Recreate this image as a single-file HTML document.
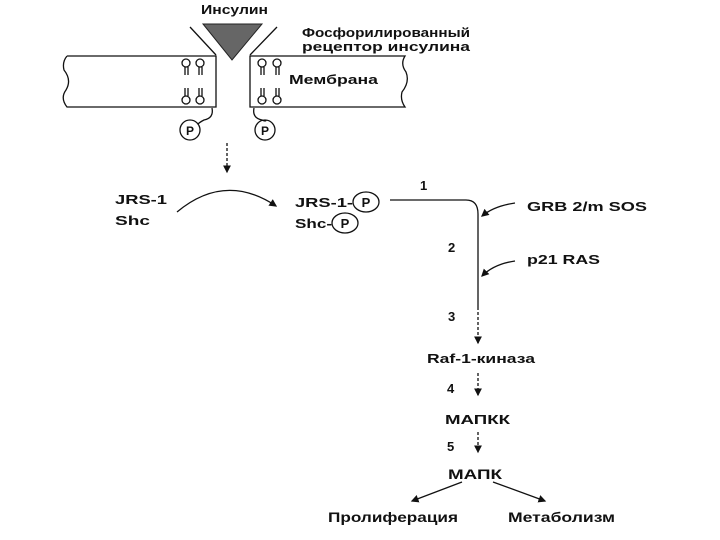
<!DOCTYPE html>
<html><head><meta charset="utf-8"><style>
html,body{margin:0;padding:0;background:#fff;}
svg{display:block;}
text{font-family:"Liberation Sans","DejaVu Sans",sans-serif;font-weight:bold;fill:#111;}
</style></head><body>
<svg width="720" height="540" viewBox="0 0 720 540" xmlns="http://www.w3.org/2000/svg">
<defs><marker id="a" markerWidth="6" markerHeight="6" refX="5" refY="3" orient="auto"><path d="M0,0 L6,3 L0,6 z" fill="#111"/></marker></defs>
<g stroke="#111" stroke-width="1.3" fill="none">
<path d="M67,56 L216,56 L216,107 L67,107 Q60,98 66,90 Q72,80 64,70 Q62,62 67,56"/>
<path d="M250,56 L405,56 Q400,64 406,72 Q410,82 402,92 Q400,100 405,107 L250,107 Z"/>
<path d="M190,27 L216,55"/><path d="M277,27 L250,55"/>
<path d="M212,108 Q214,118 204,120 Q200,122 198,124"/>
<path d="M254,108 Q252,118 262,120 Q266,122 266,120"/>
<circle cx="190" cy="130" r="10"/><circle cx="265" cy="130" r="10"/>
<circle cx="186" cy="63" r="4"/><circle cx="200" cy="63" r="4"/><path d="M185,67 v8 M188,67 v8 M199,67 v8 M202,67 v8"/>
<circle cx="262" cy="63" r="4"/><circle cx="277" cy="63" r="4"/><path d="M261,67 v8 M264,67 v8 M276,67 v8 M279,67 v8"/>
<circle cx="186" cy="100" r="4"/><circle cx="200" cy="100" r="4"/><path d="M185,88 v8 M188,88 v8 M199,88 v8 M202,88 v8"/>
<circle cx="262" cy="100" r="4"/><circle cx="277" cy="100" r="4"/><path d="M261,88 v8 M264,88 v8 M276,88 v8 M279,88 v8"/>
<path d="M227,143 L227,172" stroke-dasharray="3,2" marker-end="url(#a)"/>
<path d="M177,212 Q225,172 276,206" marker-end="url(#a)"/>
<ellipse cx="366" cy="202" rx="13" ry="10"/><ellipse cx="345" cy="223" rx="13" ry="10"/>
<path d="M390,200 L466,200 Q478,200 478,214 L478,307"/>
<path d="M478,307 L478,343" stroke-dasharray="3,2" marker-end="url(#a)"/>
<path d="M515,203 Q494,206 482,216" marker-end="url(#a)"/>
<path d="M515,261 Q494,264 482,276" marker-end="url(#a)"/>
<path d="M478,373 L478,395" stroke-dasharray="3,2" marker-end="url(#a)"/>
<path d="M478,432 L478,452" stroke-dasharray="3,2" marker-end="url(#a)"/>
<path d="M462,482 L412,501" marker-end="url(#a)"/>
<path d="M493,482 L545,501" marker-end="url(#a)"/>
</g>
<polygon points="203,24 262,24 232,60" fill="#666" stroke="#222"/>
<text x="201" y="14" font-size="13" textLength="67" lengthAdjust="spacingAndGlyphs">Инсулин</text>
<text x="302" y="37" font-size="13" textLength="168" lengthAdjust="spacingAndGlyphs">Фосфорилированный</text>
<text x="302" y="51" font-size="13" textLength="168" lengthAdjust="spacingAndGlyphs">рецептор инсулина</text>
<text x="289" y="84" font-size="13" textLength="89" lengthAdjust="spacingAndGlyphs">Мембрана</text>
<text x="190" y="135" font-size="12" text-anchor="middle">P</text>
<text x="265" y="135" font-size="12" text-anchor="middle">P</text>
<text x="115" y="204" font-size="13" textLength="52" lengthAdjust="spacingAndGlyphs">JRS-1</text>
<text x="115" y="225" font-size="13" textLength="35" lengthAdjust="spacingAndGlyphs">Shc</text>
<text x="295" y="207" font-size="13" textLength="58" lengthAdjust="spacingAndGlyphs">JRS-1-</text>
<text x="366" y="207" font-size="13" text-anchor="middle">P</text>
<text x="295" y="228" font-size="13" textLength="37" lengthAdjust="spacingAndGlyphs">Shc-</text>
<text x="345" y="228" font-size="13" text-anchor="middle">P</text>
<text x="420" y="190" font-size="13">1</text>
<text x="527" y="211" font-size="13" textLength="120" lengthAdjust="spacingAndGlyphs">GRB 2/m SOS</text>
<text x="448" y="252" font-size="13">2</text>
<text x="527" y="264" font-size="13" textLength="73" lengthAdjust="spacingAndGlyphs">p21 RAS</text>
<text x="448" y="321" font-size="13">3</text>
<text x="427" y="363" font-size="13" textLength="108" lengthAdjust="spacingAndGlyphs">Raf-1-киназа</text>
<text x="447" y="393" font-size="13">4</text>
<text x="445" y="424" font-size="13" textLength="65" lengthAdjust="spacingAndGlyphs">МАПКК</text>
<text x="447" y="451" font-size="13">5</text>
<text x="448" y="479" font-size="14" textLength="54" lengthAdjust="spacingAndGlyphs">МАПК</text>
<text x="328" y="522" font-size="13.5" textLength="130" lengthAdjust="spacingAndGlyphs">Пролиферация</text>
<text x="508" y="522" font-size="13.5" textLength="107" lengthAdjust="spacingAndGlyphs">Метаболизм</text>
</svg>
</body></html>
